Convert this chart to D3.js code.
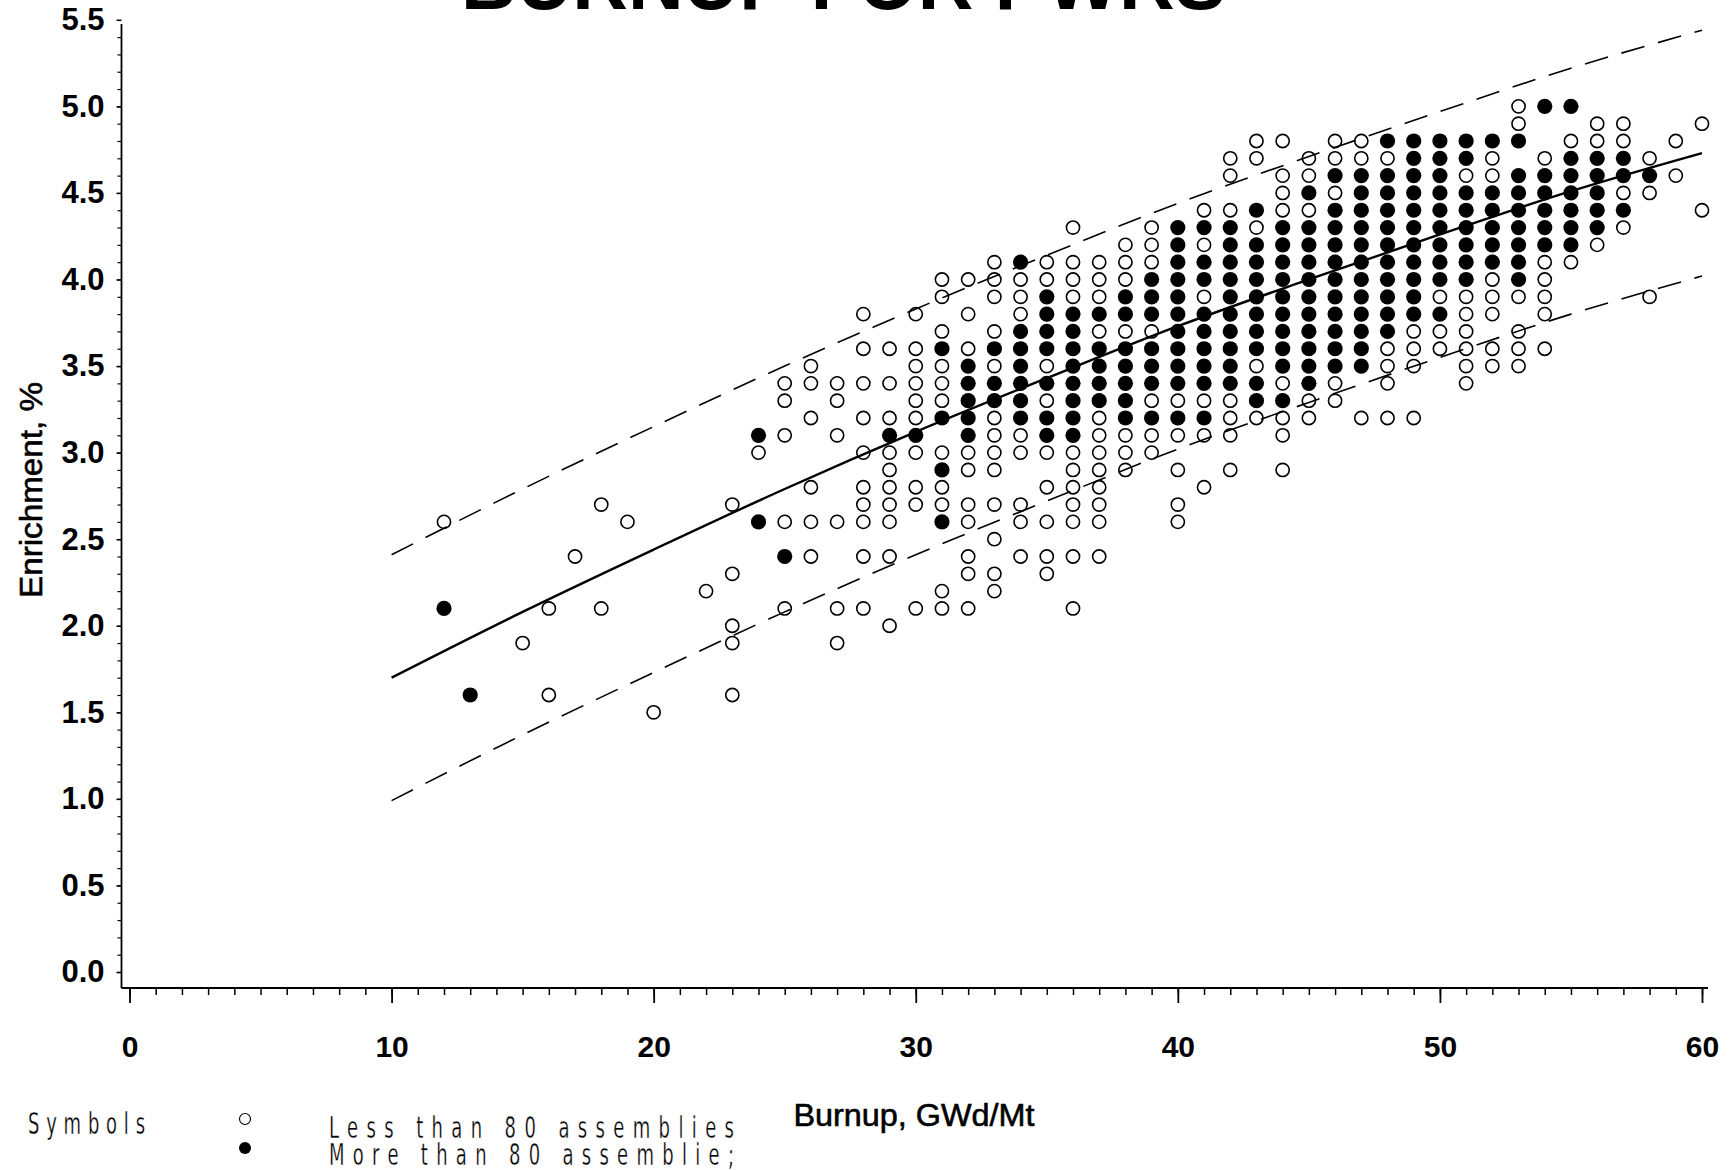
<!DOCTYPE html>
<html>
<head>
<meta charset="utf-8">
<script src="https://cdn.jsdelivr.net/npm/d3@7"></script>
<style>
body { margin: 0; background: #fff; }
svg { display: block; }
text { font-family: "Liberation Sans", Arial, sans-serif; fill: #000; }
.tick line { stroke: #000; }
.plotter { font-family: "DejaVu Sans", sans-serif; font-size: 31px; }
</style>
</head>
<body>
<svg id="chart" width="1736" height="1170"></svg>
<script>
// burnup (GWd/Mt) columns with the enrichments (%) plotted in them
var lessThan80 = [
    [12, [2.6]], [15, [1.9]], [16, [2.1, 1.6]], [17, [2.4]], [18, [2.7, 2.1]],
    [19, [2.6]], [20, [1.5]], [22, [2.2]], [23, [2.7, 2.3, 2.0, 1.9, 1.6]],
    [24, [3.0]],
    [25, [3.4, 3.3, 3.1, 2.6, 2.1]],
    [26, [3.5, 3.4, 3.2, 2.8, 2.6, 2.4]],
    [27, [3.4, 3.3, 3.1, 2.6, 2.1, 1.9]],
    [28, [3.8, 3.6, 3.4, 3.2, 3.0, 2.8, 2.7, 2.6, 2.4, 2.1]],
    [29, [3.6, 3.4, 3.2, 3.0, 2.9, 2.8, 2.7, 2.6, 2.4, 2.0]],
    [30, [3.8, 3.6, 3.5, 3.4, 3.3, 3.2, 3.0, 2.8, 2.7, 2.1]],
    [31, [4.0, 3.9, 3.7, 3.5, 3.4, 3.3, 3.0, 2.8, 2.7, 2.2, 2.1]],
    [32, [4.0, 3.8, 3.6, 3.0, 2.9, 2.7, 2.6, 2.4, 2.3, 2.1]],
    [33, [4.1, 4.0, 3.9, 3.7, 3.5, 3.2, 3.1, 3.0, 2.9, 2.7, 2.5, 2.3, 2.2]],
    [34, [4.0, 3.9, 3.8, 3.1, 3.0, 2.7, 2.6, 2.4]],
    [35, [4.1, 4.0, 3.5, 3.3, 3.0, 2.8, 2.6, 2.4, 2.3]],
    [36, [4.3, 4.1, 4.0, 3.9, 3.0, 2.9, 2.8, 2.7, 2.6, 2.4, 2.1]],
    [37, [4.1, 4.0, 3.9, 3.7, 3.2, 3.1, 3.0, 2.9, 2.8, 2.7, 2.6, 2.4]],
    [38, [4.2, 4.1, 4.0, 3.7, 3.1, 3.0, 2.9]],
    [39, [4.3, 4.2, 4.1, 3.7, 3.3, 3.1, 3.0]],
    [40, [3.3, 3.1, 2.9, 2.7, 2.6]],
    [41, [4.4, 4.2, 3.9, 3.3, 3.1, 2.8]],
    [42, [4.7, 4.6, 4.4, 3.3, 3.2, 3.1, 2.9]],
    [43, [4.8, 4.7, 4.3, 3.5, 3.2]],
    [44, [4.8, 4.6, 4.5, 4.4, 3.4, 3.2, 3.1, 2.9]],
    [45, [4.7, 4.6, 4.4, 3.3, 3.2]],
    [46, [4.8, 4.7, 4.5, 3.4, 3.3]],
    [47, [4.8, 4.7, 3.2]],
    [48, [4.7, 3.6, 3.5, 3.4, 3.2]],
    [49, [3.7, 3.6, 3.5, 3.2]],
    [50, [3.9, 3.7, 3.6]],
    [51, [4.6, 3.9, 3.8, 3.7, 3.6, 3.5, 3.4]],
    [52, [4.7, 4.6, 4.0, 3.9, 3.8, 3.6, 3.5]],
    [53, [5.0, 4.9, 3.9, 3.7, 3.6, 3.5]],
    [54, [4.7, 4.1, 4.0, 3.9, 3.8, 3.6]],
    [55, [4.8, 4.1]],
    [56, [4.9, 4.8, 4.2]],
    [57, [4.9, 4.8, 4.5, 4.3]],
    [58, [4.7, 4.5, 3.9]],
    [59, [4.8, 4.6]],
    [60, [4.9, 4.4]]
];

var moreThan80 = [
    [12, [2.1]], [13, [1.6]], [24, [3.1, 2.6]], [25, [2.4]],
    [29, [3.1]], [30, [3.1]],
    [31, [3.6, 3.2, 2.9, 2.6]],
    [32, [3.5, 3.4, 3.3, 3.2, 3.1]],
    [33, [3.6, 3.4, 3.3]],
    [34, [4.1, 3.7, 3.6, 3.5, 3.4, 3.3, 3.2]],
    [35, [3.9, 3.8, 3.7, 3.6, 3.4, 3.2, 3.1]],
    [36, [3.8, 3.7, 3.6, 3.5, 3.4, 3.3, 3.2, 3.1]],
    [37, [3.8, 3.6, 3.5, 3.4, 3.3]],
    [38, [3.9, 3.8, 3.6, 3.5, 3.4, 3.3, 3.2]],
    [39, [4.0, 3.9, 3.8, 3.6, 3.5, 3.4, 3.2]],
    [40, [4.3, 4.2, 4.1, 4.0, 3.9, 3.8, 3.7, 3.6, 3.5, 3.4, 3.2]],
    [41, [4.3, 4.1, 4.0, 3.8, 3.7, 3.6, 3.5, 3.4, 3.2]],
    [42, [4.3, 4.2, 4.1, 4.0, 3.9, 3.8, 3.7, 3.6, 3.5, 3.4]],
    [43, [4.4, 4.2, 4.1, 4.0, 3.9, 3.8, 3.7, 3.6, 3.4, 3.3]],
    [44, [4.3, 4.2, 4.1, 4.0, 3.9, 3.8, 3.7, 3.6, 3.5, 3.3]],
    [45, [4.5, 4.3, 4.2, 4.1, 4.0, 3.9, 3.8, 3.7, 3.6, 3.5, 3.4]],
    [46, [4.6, 4.4, 4.3, 4.2, 4.1, 4.0, 3.9, 3.8, 3.7, 3.6, 3.5]],
    [47, [4.6, 4.5, 4.4, 4.3, 4.2, 4.1, 4.0, 3.9, 3.8, 3.7, 3.6, 3.5]],
    [48, [4.8, 4.6, 4.5, 4.4, 4.3, 4.2, 4.1, 4.0, 3.9, 3.8, 3.7]],
    [49, [4.8, 4.7, 4.6, 4.5, 4.4, 4.3, 4.2, 4.1, 4.0, 3.9, 3.8]],
    [50, [4.8, 4.7, 4.6, 4.5, 4.4, 4.3, 4.2, 4.1, 4.0, 3.8]],
    [51, [4.8, 4.7, 4.5, 4.4, 4.3, 4.2, 4.1, 4.0]],
    [52, [4.8, 4.5, 4.4, 4.3, 4.2, 4.1]],
    [53, [4.8, 4.6, 4.5, 4.4, 4.3, 4.2, 4.1, 4.0]],
    [54, [5.0, 4.6, 4.5, 4.4, 4.3, 4.2]],
    [55, [5.0, 4.7, 4.6, 4.5, 4.4, 4.3, 4.2]],
    [56, [4.7, 4.6, 4.5, 4.4, 4.3]],
    [57, [4.7, 4.6, 4.4]],
    [58, [4.6]]
];

// fitted curve and the two dashed bands
var fitBurnup = [10, 15, 20, 25, 30, 35, 40, 45, 50, 55, 60];
var fitEnrich = [1.70, 2.08, 2.44, 2.79, 3.12, 3.43, 3.73, 4.00, 4.26, 4.51, 4.73];
var upperEnrich = [2.41, 2.79, 3.15, 3.50, 3.83, 4.14, 4.44, 4.71, 4.97, 5.22, 5.44];
var lowerEnrich = [0.99, 1.37, 1.73, 2.08, 2.41, 2.72, 3.02, 3.29, 3.55, 3.80, 4.02];

var xMajor = [0, 10, 20, 30, 40, 50, 60];
var yMajor = [0.0, 0.5, 1.0, 1.5, 2.0, 2.5, 3.0, 3.5, 4.0, 4.5, 5.0, 5.5];

var svg = d3.select("#chart");

var x = d3.scaleLinear().domain([0, 60]).range([129.5, 1702]);
var y = d3.scaleLinear().domain([0, 5.5]).range([972, 19.8]);
var axisX = 988, axisY = 121.5;

function flatten(groups) {
    var out = [];
    groups.forEach(function(g) {
        g[1].forEach(function(v) { out.push({b: g[0], e: v}); });
    });
    return out;
}

// title, mostly off the top of the page
svg.append("text")
    .attr("x", 461)
    .attr("y", 9)
    .attr("textLength", 765)
    .attr("lengthAdjust", "spacingAndGlyphs")
    .style("font-size", "80px")
    .style("font-weight", "bold")
    .text("BURNUP FOR PWRS");

// axis lines
svg.append("line")
    .attr("x1", axisY).attr("x2", axisY)
    .attr("y1", 24).attr("y2", axisX)
    .style("stroke", "#000").style("stroke-width", 1.8);
svg.append("line")
    .attr("x1", axisY).attr("x2", 1708)
    .attr("y1", axisX).attr("y2", axisX)
    .style("stroke", "#000").style("stroke-width", 1.8);

// x ticks
svg.append("g")
    .attr("transform", "translate(0," + axisX + ")")
    .call(d3.axisBottom(x).tickValues(d3.range(0, 61)).tickSize(7).tickFormat(""))
    .call(function(g) { g.select(".domain").remove(); })
    .selectAll("line").style("stroke-width", 1.5);
var gx = svg.append("g")
    .attr("transform", "translate(0," + axisX + ")")
    .call(d3.axisBottom(x).tickValues(xMajor).tickSize(15).tickPadding(33).tickFormat(d3.format("d")));
gx.select(".domain").remove();
gx.selectAll("line").style("stroke-width", 1.8);
gx.selectAll("text")
    .style("font-size", "30px")
    .style("font-weight", "bold")
    .style("font-family", "'Liberation Sans', Arial, sans-serif");

// y ticks
svg.append("g")
    .attr("transform", "translate(" + axisY + ",0)")
    .call(d3.axisLeft(y).tickValues(d3.range(0, 55).map(function(d) { return d / 10; })).tickSize(4).tickFormat(""))
    .call(function(g) { g.select(".domain").remove(); })
    .selectAll("line").style("stroke-width", 1.2);
var gy = svg.append("g")
    .attr("transform", "translate(" + axisY + ",0)")
    .call(d3.axisLeft(y).tickValues(yMajor).tickSize(5).tickPadding(12).tickFormat(d3.format(".1f")));
gy.select(".domain").remove();
gy.selectAll("line").style("stroke-width", 1.5);
gy.selectAll("text")
    .style("font-size", "31px")
    .style("font-weight", "bold")
    .style("font-family", "'Liberation Sans', Arial, sans-serif");

// axis titles
svg.append("text")
    .attr("transform", "translate(42,490) rotate(-90)")
    .attr("text-anchor", "middle")
    .attr("textLength", 216)
    .attr("lengthAdjust", "spacingAndGlyphs")
    .style("font-size", "32px")
    .style("stroke", "#000")
    .style("stroke-width", 0.6)
    .text("Enrichment, %");
svg.append("text")
    .attr("x", 914)
    .attr("y", 1126)
    .attr("text-anchor", "middle")
    .attr("textLength", 241)
    .attr("lengthAdjust", "spacingAndGlyphs")
    .style("font-size", "32px")
    .style("stroke", "#000")
    .style("stroke-width", 0.6)
    .text("Burnup, GWd/Mt");

// fit and bands
var fitLine = d3.line()
    .x(function(d) { return x(d[0]); })
    .y(function(d) { return y(d[1]); })
    .curve(d3.curveMonotoneX);

svg.append("path")
    .datum(d3.zip(fitBurnup, fitEnrich))
    .attr("d", fitLine)
    .style("fill", "none")
    .style("stroke", "#000")
    .style("stroke-width", 2.4);
[upperEnrich, lowerEnrich].forEach(function(band) {
    svg.append("path")
        .datum(d3.zip(fitBurnup, band))
        .attr("d", fitLine)
        .style("fill", "none")
        .style("stroke", "#000")
        .style("stroke-width", 1.6)
        .style("stroke-dasharray", "24,14");
});

// points
svg.append("g").selectAll("circle")
    .data(flatten(lessThan80))
    .enter().append("circle")
    .attr("cx", function(d) { return x(d.b); })
    .attr("cy", function(d) { return y(d.e); })
    .attr("r", 6.6)
    .style("fill", "none")
    .style("stroke", "#000")
    .style("stroke-width", 1.6);
svg.append("g").selectAll("circle")
    .data(flatten(moreThan80))
    .enter().append("circle")
    .attr("cx", function(d) { return x(d.b); })
    .attr("cy", function(d) { return y(d.e); })
    .attr("r", 7.6)
    .style("fill", "#000");

// legend, in a tall narrow plotter-style lettering
function plotterText(px, py, width, label) {
    var sx = 0.58;
    svg.append("text")
        .attr("class", "plotter")
        .attr("transform", "translate(" + px + "," + py + ") scale(" + sx + ",1)")
        .attr("textLength", width / sx)
        .attr("lengthAdjust", "spacing")
        .style("stroke", "#fff")
        .style("stroke-width", 0.4)
        .text(label);
}
plotterText(28, 1134, 117, "Symbols");
svg.append("circle")
    .attr("cx", 245).attr("cy", 1119).attr("r", 5.5)
    .style("fill", "none").style("stroke", "#000").style("stroke-width", 1.1);
plotterText(329, 1138, 405, "Less than 80 assemblies");
svg.append("circle")
    .attr("cx", 245).attr("cy", 1148).attr("r", 6)
    .style("fill", "#000");
plotterText(329, 1165, 405, "More than 80 assemblie;");

// plot stamp, cut off at the bottom edge
svg.append("text")
    .attr("x", 1318).attr("y", 1186)
    .attr("textLength", 222)
    .attr("lengthAdjust", "spacing")
    .style("font-size", "22px")
    .text("NUHDDEC 1991-05-20");
</script>
</body>
</html>
